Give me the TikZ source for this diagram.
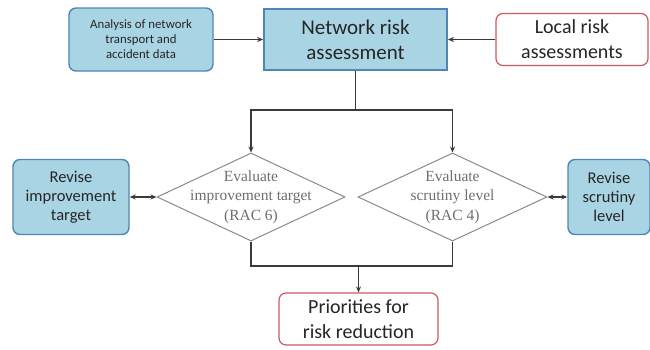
\documentclass[tikz,border=0pt]{standalone}
\usepackage{fontspec}
\setmainfont{Carlito}
\newfontfamily\dserif{Liberation Serif}
\usetikzlibrary{shapes.geometric,arrows.meta}
\definecolor{bfill}{HTML}{A9D4E4}
\definecolor{bdraw}{HTML}{4F86B4}
\definecolor{rdraw}{HTML}{CC5A5E}
\definecolor{lnc}{HTML}{3A3A3A}
\definecolor{dgray}{HTML}{8A8A8A}
\definecolor{tgray}{HTML}{6E6E6E}
\tikzset{
  bluebox/.style={draw=bdraw, fill=bfill, line width=1.4pt, rounded corners=7pt, align=center, inner sep=0pt, text=black!85},
  netbox/.style={draw=bdraw, fill=bfill, line width=1.8pt, align=center, inner sep=0pt, text=black!85},
  redbox/.style={draw=rdraw, fill=white, line width=1.2pt, rounded corners=7pt, align=center, inner sep=0pt, text=black!85},
  dshape/.style={diamond, draw=dgray, line width=1pt, inner sep=0pt},
  dtext/.style={align=center, text=tgray, font=\dserif\fontsize{15.5}{19.5}\selectfont},
  conn/.style={draw=lnc, line width=1.2pt},
  tip/.style={-{Stealth[length=6pt,width=5pt]}},
  dtip/.style={{Stealth[length=6pt,width=5pt]}-{Stealth[length=6pt,width=5pt]}}
}
\begin{document}
\begin{tikzpicture}[x=1pt,y=-1pt]
\useasboundingbox (0,0) rectangle (650,349);
% top row
\node[bluebox, minimum width=144pt, minimum height=63pt, font=\fontsize{12.8}{15}\selectfont] (anal) at (141,39.5) {Analysis of network\\transport and\\accident data};
\node[netbox, minimum width=183pt, minimum height=61pt, font=\fontsize{21}{25}\selectfont] (net) at (355.5,39.5) {Network risk\\assessment};
\node[redbox, minimum width=152pt, minimum height=52pt, font=\fontsize{20}{25}\selectfont] (local) at (572,39.5) {Local risk\\assessments};
% diamonds
\node[dshape, minimum width=188pt, minimum height=88pt] (dL) at (251,197) {};
\node[dtext] (dLt) at (251,197) {Evaluate\\improvement target\\(RAC 6)};
\node[dshape, minimum width=189pt, minimum height=88pt] (dR) at (452.5,197) {};
\node[dtext] (dRt) at (452.5,197) {Evaluate\\scrutiny level\\(RAC 4)};
% side boxes
\node[bluebox, minimum width=116pt, minimum height=75pt, font=\fontsize{16.5}{19}\selectfont] (revL) at (71,197) {Revise\\improvement\\target};
\node[bluebox, minimum width=82pt, minimum height=75pt, font=\fontsize{16.5}{19}\selectfont] (revR) at (609,197) {Revise\\scrutiny\\level};
% bottom
\node[redbox, minimum width=159pt, minimum height=52pt, font=\fontsize{20}{25}\selectfont] (prio) at (358.5,319) {Priorities for\\risk reduction};
% connectors
\coordinate (split) at (355.5,110);
\coordinate (join) at (358.5,266);
\draw[conn, tip] (anal.east) -- (net.west);
\draw[conn, tip] (local.west) -- (net.east);
\draw[conn] (net.south) -- (split);
\draw[conn, tip] (split) -| (dL.north);
\draw[conn, tip] (split) -| (dR.north);
\draw[conn, dtip] (revL.east) -- (dL.west);
\draw[conn, dtip] (dR.east) -- (revR.west);
\draw[conn] (dL.south) |- (join);
\draw[conn] (dR.south) |- (join);
\draw[conn, tip] (join) -- (prio.north);
\end{tikzpicture}
\end{document}
